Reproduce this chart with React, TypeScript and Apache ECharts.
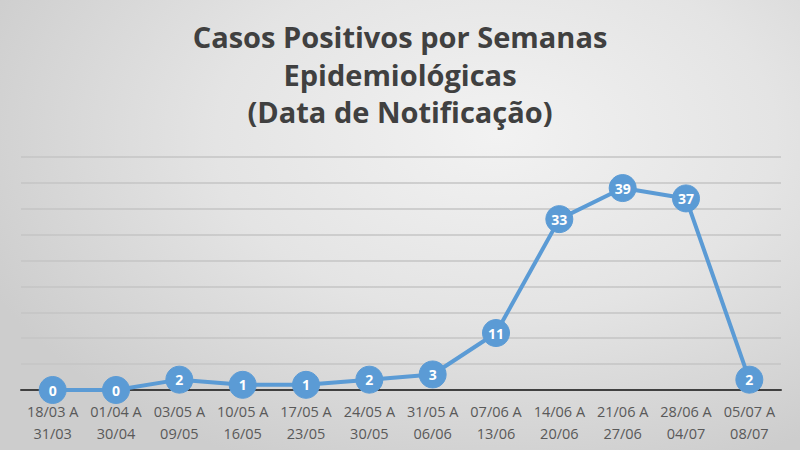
import React, { useEffect, useRef } from "react";
import * as echarts from "echarts";

const titleText = "Casos Positivos por Semanas\nEpidemiológicas\n(Data de Notificação)";
const categories = [
  "18/03 A\n31/03",
  "01/04 A\n30/04",
  "03/05 A\n09/05",
  "10/05 A\n16/05",
  "17/05 A\n23/05",
  "24/05 A\n30/05",
  "31/05 A\n06/06",
  "07/06 A\n13/06",
  "14/06 A\n20/06",
  "21/06 A\n27/06",
  "28/06 A\n04/07",
  "05/07 A\n08/07",
];
const casos = [0, 0, 2, 1, 1, 2, 3, 11, 33, 39, 37, 2];
const yMin = 0;
const yMax = 45;
const yInterval = 5;

export default function App() {
  const ref = useRef<HTMLDivElement>(null);
  useEffect(() => {
    if (!ref.current) return;
    const chart = echarts.init(ref.current, undefined, { renderer: "svg" });
    chart.setOption({
      animation: false,
      backgroundColor: "transparent",
      title: {
        text: titleText,
        left: "center",
        top: 13,
        textStyle: {
          fontFamily: "Open Sans",
          fontWeight: "bold",
          fontSize: 29,
          lineHeight: 37.5,
          color: "#404040",
        },
      },
      grid: { left: 21, right: 19, top: 157, bottom: 60, containLabel: false },
      xAxis: {
        type: "category",
        data: categories,
        boundaryGap: true,
        axisLine: { lineStyle: { color: "#404040", width: 2 } },
        axisTick: { show: false },
        axisLabel: {
          interval: 0,
          color: "#595959",
          fontFamily: "Open Sans",
          fontSize: 14.5,
          lineHeight: 22,
          margin: 10,
        },
      },
      yAxis: {
        type: "value",
        min: yMin,
        max: yMax,
        interval: yInterval,
        axisLabel: { show: false },
        axisLine: { show: false },
        axisTick: { show: false },
        splitLine: { lineStyle: { color: "#c4c4c4", width: 1.5 } },
      },
      series: [
        {
          type: "line",
          data: casos,
          symbol: "circle",
          symbolSize: 27,
          lineStyle: { color: "#5b9bd5", width: 4 },
          itemStyle: { color: "#5b9bd5", borderColor: "#5b9bd5" },
          label: {
            show: true,
            position: "inside",
            color: "#ffffff",
            fontFamily: "Open Sans",
            fontWeight: "bold",
            fontSize: 14,
          },
          z: 5,
        },
      ],
    });
    return () => chart.dispose();
  }, []);
  return (
    <div
      style={{
        position: "absolute",
        left: 0,
        top: 0,
        width: 800,
        height: 450,
        background:
          "radial-gradient(ellipse 70% 80% at 62% 30%, #f2f2f2 0%, #e4e4e4 50%, #cdcdcd 100%)",
      }}
    >
      <div ref={ref} style={{ width: 800, height: 450 }} />
    </div>
  );
}
